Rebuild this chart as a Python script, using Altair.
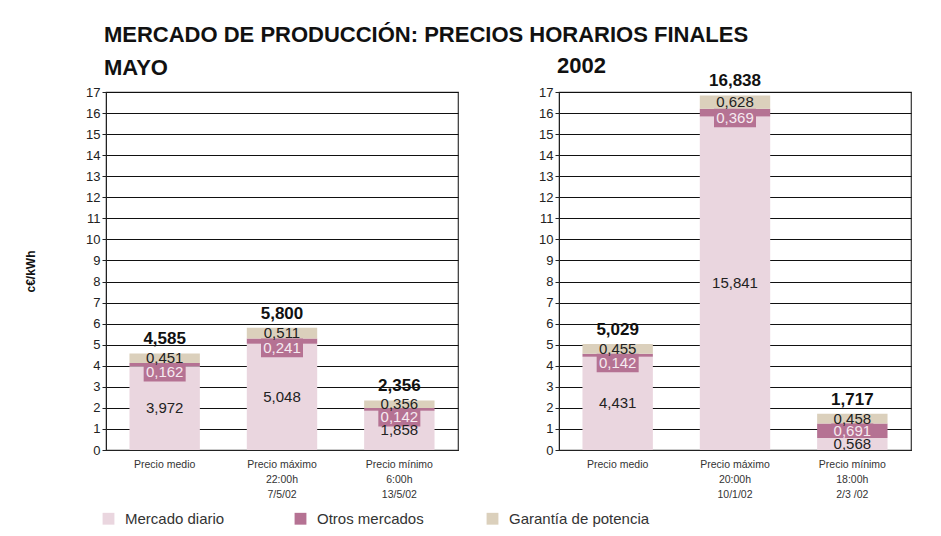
import altair as alt
import pandas as pd

FONT = "Liberation Sans, Arial, sans-serif"

series = ["Mercado diario", "Otros mercados", "Garantía de potencia"]
colors = ["#EAD6DF", "#B57293", "#DBD0BC"]

cats_mayo = ["Precio medio", "Precio máximo|22:00h|7/5/02", "Precio mínimo|6:00h|13/5/02"]
diario_mayo = [3.972, 5.048, 1.858]
otros_mayo = [0.162, 0.241, 0.142]
garantia_mayo = [0.451, 0.511, 0.356]
total_mayo = [4.585, 5.800, 2.356]

cats_2002 = ["Precio medio", "Precio máximo|20:00h|10/1/02", "Precio mínimo|18:00h|2/3 /02"]
diario_2002 = [4.431, 15.841, 0.568]
otros_2002 = [0.142, 0.369, 0.691]
garantia_2002 = [0.455, 0.628, 0.458]
total_2002 = [5.029, 16.838, 1.717]

y_ticks = list(range(0, 18))


def fmt(v):
    return f"{v:.3f}".replace(".", ",")


def panel(cats, diario, otros, garantia, total, title, y_title, title_dy):
    rows = []
    tops = []
    for i, c in enumerate(cats):
        s = 0.0
        for k, (name, val) in enumerate(zip(series, [diario[i], otros[i], garantia[i]])):
            rows.append(dict(cat=c, serie=name, order=k, start=s, end=s + val,
                             mid=s + val / 2, label=fmt(val)))
            s += val
        top_o = diario[i] + otros[i]
        box_bottom = diario[i] if otros[i] >= 0.6 else top_o - 0.88
        tops.append(dict(cat=c, top=top_o, bottom=box_bottom, center=(top_o + box_bottom) / 2,
                         label=fmt(otros[i]), total=total[i], tlabel=fmt(total[i])))
    df = pd.DataFrame(rows)
    dt = pd.DataFrame(tops)

    xaxis = alt.Axis(labelAngle=0, labelExpr="split(datum.label, '|')",
                     labelFont=FONT, labelFontSize=10.5, labelColor="#333",
                     labelLineHeight=15, ticks=False, domainColor="#222",
                     labelPadding=9)
    x = alt.X("cat:N", sort=cats, title=None,
              scale=alt.Scale(paddingInner=0.4, paddingOuter=0.2), axis=xaxis)
    yscale = alt.Scale(domain=[0, 17], nice=False)
    yaxis = alt.Axis(values=y_ticks, grid=True, gridColor="#111", gridWidth=1,
                     labelOverlap=False,
                     domainColor="#222", tickColor="#222", tickSize=4,
                     labelFont=FONT, labelFontSize=13, labelColor="#222", labelPadding=2,
                     title=y_title if y_title else None,
                     titleFont=FONT, titleFontSize=12, titleFontWeight="bold",
                     titleColor="#111", titlePadding=48)

    def Y(field):
        return alt.Y(field, scale=yscale, axis=yaxis)

    def X():
        return alt.X("cat:N", sort=cats, title=None, axis=xaxis)

    bars = alt.Chart(df).mark_bar().encode(
        x=x,
        y=Y("start:Q"),
        y2="end:Q",
        color=alt.Color("serie:N", scale=alt.Scale(domain=series, range=colors),
                        legend=alt.Legend(title=None, orient="none", direction="horizontal",
                                          legendX=-5, legendY=419, gridAlign="all",
                                          symbolType="square", symbolSize=140,
                                          symbolStrokeWidth=0, labelFont=FONT,
                                          labelFontSize=15, labelColor="#333",
                                          columnPadding=27, labelOffset=9)),
        order="order:Q",
    )
    box = alt.Chart(dt).mark_bar(width=42, color=colors[1]).encode(
        x=X(), y=Y("top:Q"), y2="bottom:Q")
    base_txt = dict(font=FONT, fontSize=15, color="#222")
    t_diario = alt.Chart(df[df.order == 0]).mark_text(**base_txt).encode(
        x=X(), y=Y("mid:Q"), text="label:N")
    t_garantia = alt.Chart(df[df.order == 2]).mark_text(**base_txt).encode(
        x=X(), y=Y("mid:Q"), text="label:N")
    t_otros = alt.Chart(dt).mark_text(font=FONT, fontSize=15, color="#F6EAF0").encode(
        x=X(), y=Y("center:Q"), text="label:N")
    t_total = alt.Chart(dt).mark_text(font=FONT, fontSize=17, fontWeight="bold",
                                      color="#111", baseline="bottom", dy=-5).encode(
        x=X(), y=Y("total:Q"), text="tlabel:N")

    return alt.layer(bars, box, t_diario, t_garantia, t_otros, t_total).properties(
        width=352, height=358,
        title=alt.TitleParams(title, anchor="start", frame="group", font=FONT,
                              fontSize=22, fontWeight="bold", color="#111", offset=6,
                              dy=title_dy, dx=-2),
    )


left = panel(cats_mayo, diario_mayo, otros_mayo, garantia_mayo, total_mayo, "MAYO", "c€/kWh", 0)
right = panel(cats_2002, diario_2002, otros_2002, garantia_2002, total_2002, "2002", None, 12)

chart = alt.hconcat(left, right, spacing=78).properties(
    title=alt.TitleParams("MERCADO DE PRODUCCIÓN: PRECIOS HORARIOS FINALES", anchor="start",
                          font=FONT, fontSize=22, fontWeight="bold", color="#111",
                          dx=80, offset=8),
    padding={"left": 15, "top": 15, "right": 10, "bottom": 0},
).resolve_scale(color="shared").configure_view(stroke="#333", strokeWidth=1.2)

chart.save("out.html", embed_options={"renderer": "svg", "actions": False})
